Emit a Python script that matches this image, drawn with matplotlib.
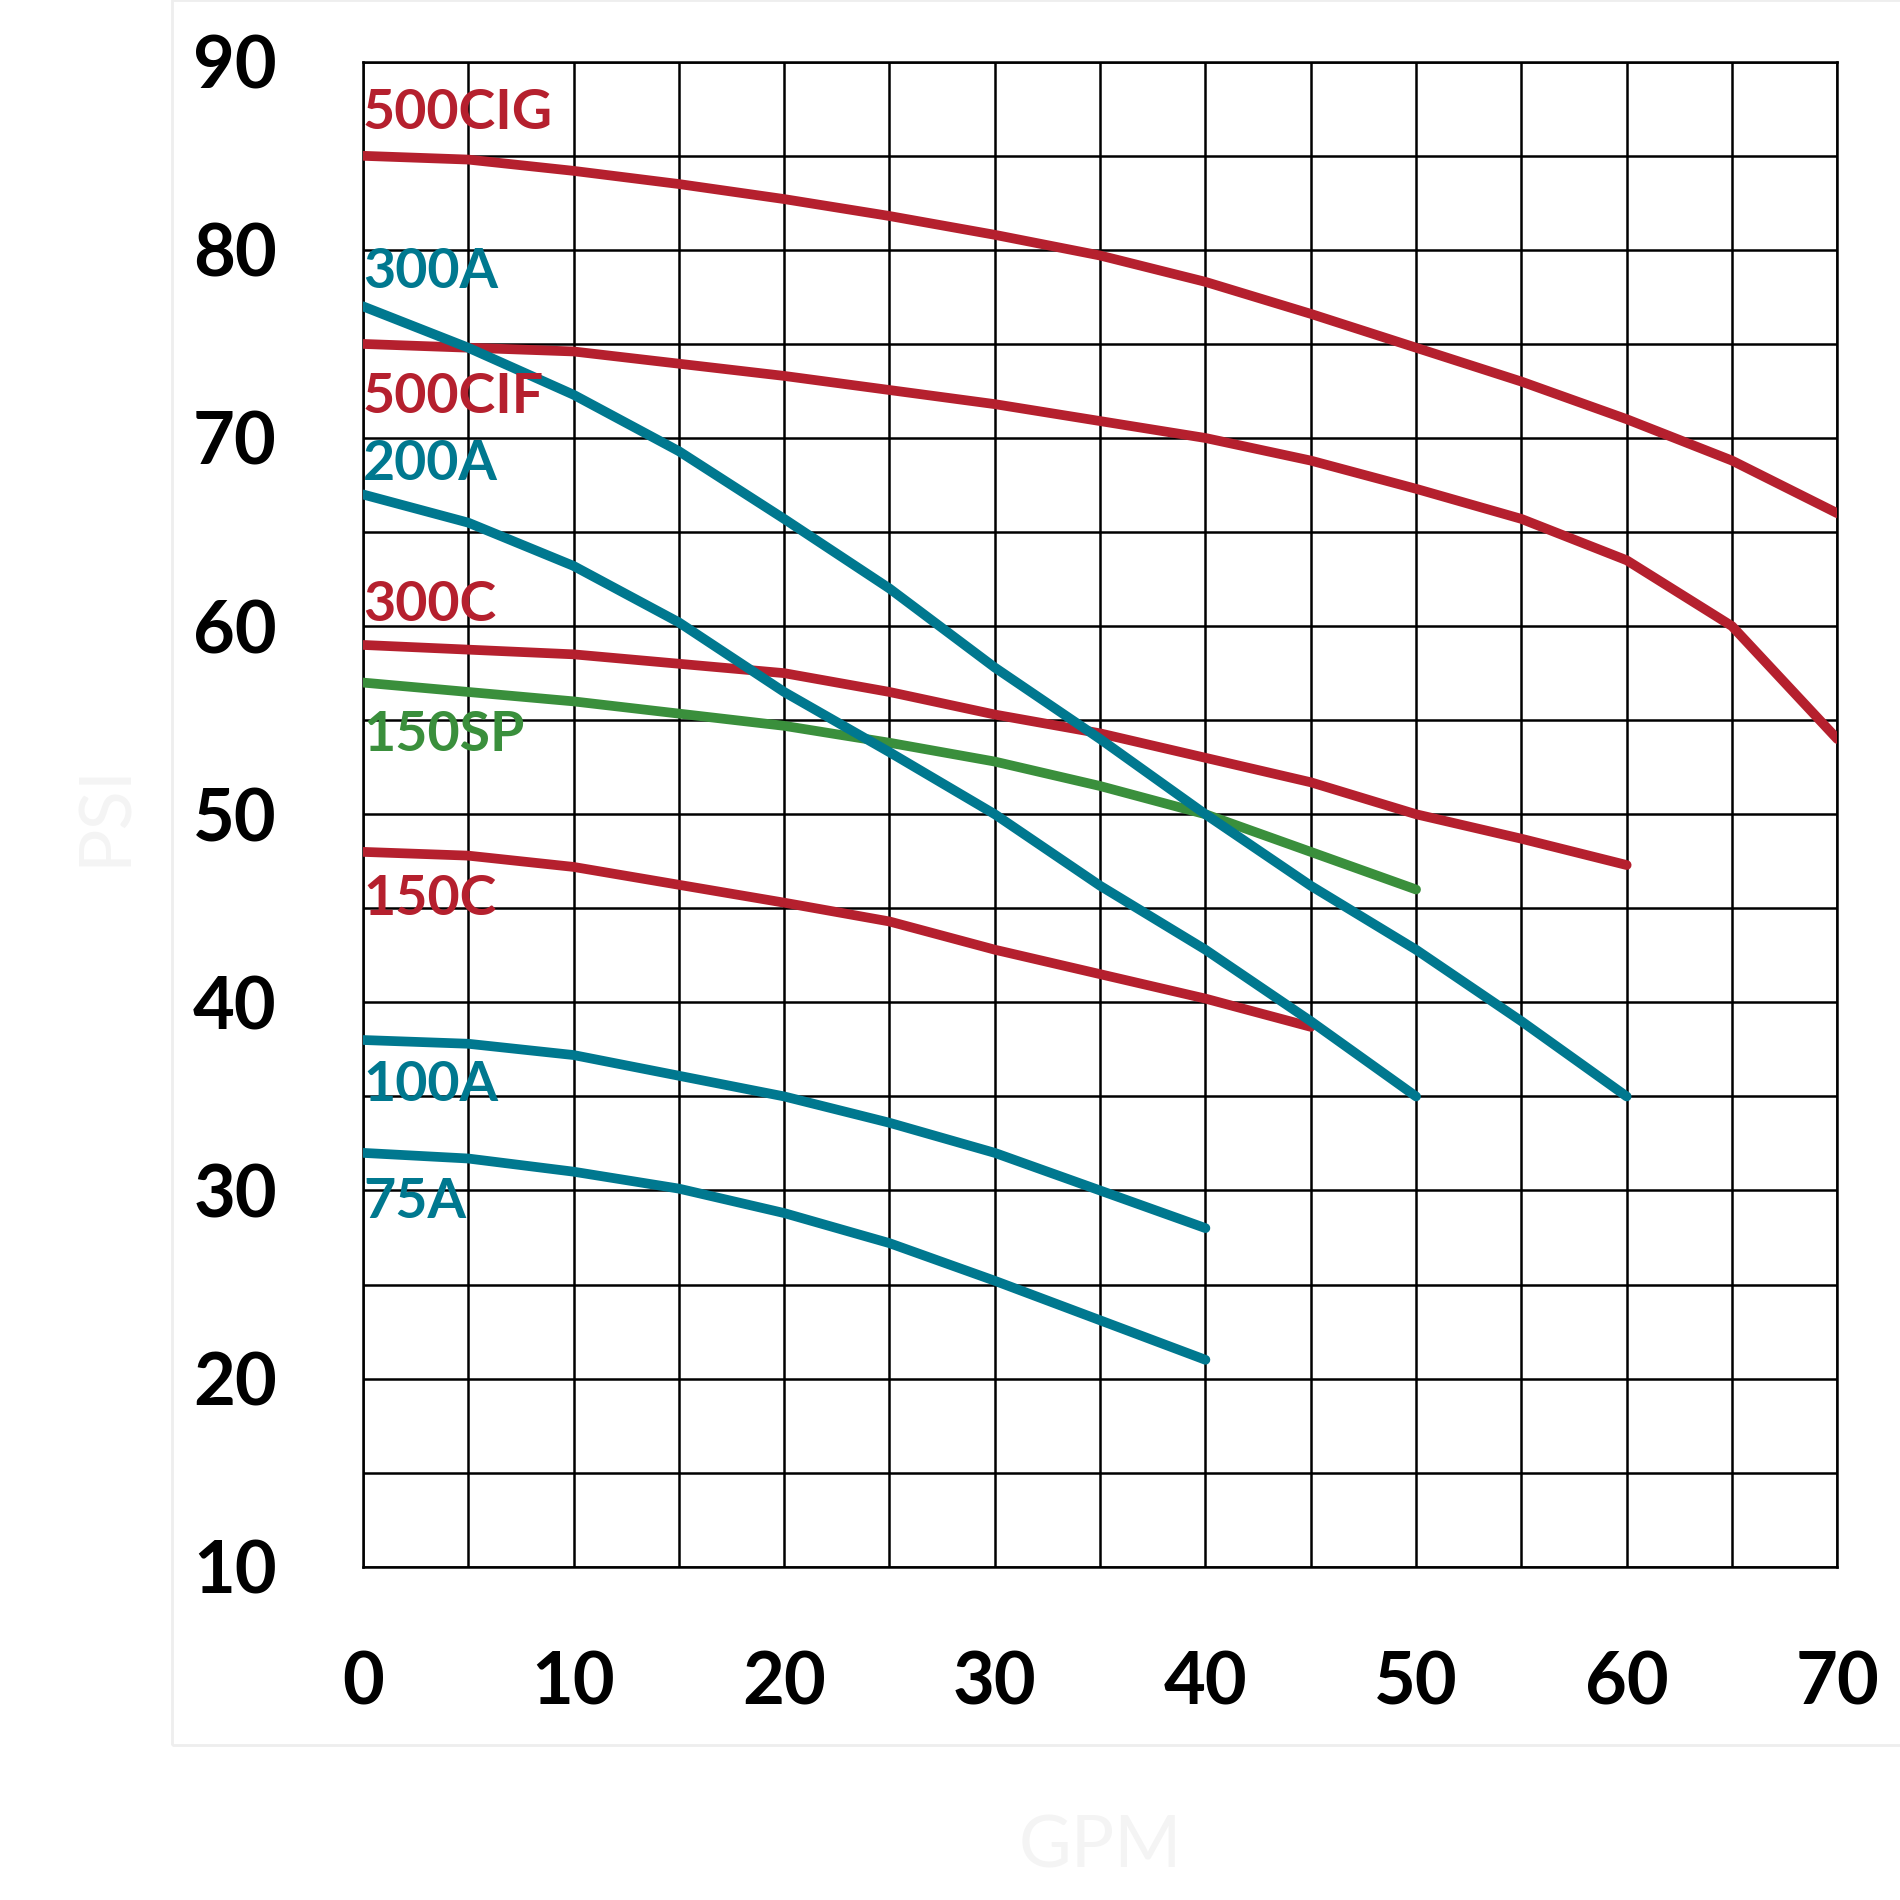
import matplotlib.pyplot as plt
from matplotlib.patches import Rectangle
from matplotlib.ticker import MultipleLocator

RED = '#b5202e'
TEAL = '#00788f'
GREEN = '#3a8f3c'

# pump curves: GPM -> PSI
gpm_500cig = [0, 5, 10, 15, 20, 25, 30, 35, 40, 45, 50, 55, 60, 65, 70]
psi_500cig = [85, 84.8, 84.2, 83.5, 82.7, 81.8, 80.8, 79.7, 78.3, 76.6, 74.8, 73, 71, 68.8, 66]
gpm_500cif = [0, 10, 20, 30, 40, 45, 50, 55, 60, 65, 70]
psi_500cif = [75, 74.6, 73.3, 71.8, 70, 68.8, 67.3, 65.7, 63.5, 60, 54]
gpm_300a = [0, 5, 10, 15, 20, 25, 30, 35, 40, 45, 50, 55, 60]
psi_300a = [77, 74.8, 72.3, 69.3, 65.7, 62, 57.8, 54, 50, 46.2, 42.8, 39, 35]
gpm_200a = [0, 5, 10, 15, 20, 25, 30, 35, 40, 45, 50]
psi_200a = [67, 65.5, 63.2, 60.2, 56.5, 53.3, 50, 46.2, 42.8, 39, 35]
gpm_300c = [0, 10, 20, 25, 30, 35, 40, 45, 50, 55, 60]
psi_300c = [59, 58.5, 57.5, 56.5, 55.3, 54.3, 53, 51.7, 50, 48.7, 47.3]
gpm_150sp = [0, 10, 20, 25, 30, 35, 40, 45, 50]
psi_150sp = [57, 56, 54.7, 53.8, 52.8, 51.5, 50, 48, 46]
gpm_150c = [0, 5, 10, 20, 25, 30, 35, 40, 45]
psi_150c = [48, 47.8, 47.2, 45.3, 44.3, 42.8, 41.5, 40.2, 38.7]
gpm_100a = [0, 5, 10, 20, 25, 30, 35, 40]
psi_100a = [38, 37.8, 37.2, 35, 33.6, 32, 30, 28]
gpm_75a = [0, 5, 10, 15, 20, 25, 30, 35, 40]
psi_75a = [32, 31.7, 31, 30.1, 28.8, 27.2, 25.2, 23.1, 21]

labels = ['500CIG', '300A', '500CIF', '200A', '300C', '150SP', '150C', '100A', '75A']
label_y = [87.3, 78.8, 72.2, 68.6, 61.1, 54.2, 45.5, 35.6, 29.4]
label_colors = [RED, TEAL, RED, TEAL, RED, GREEN, RED, TEAL, TEAL]

curves = [
    (gpm_500cig, psi_500cig, RED),
    (gpm_500cif, psi_500cif, RED),
    (gpm_300c, psi_300c, RED),
    (gpm_150c, psi_150c, RED),
    (gpm_150sp, psi_150sp, GREEN),
    (gpm_300a, psi_300a, TEAL),
    (gpm_200a, psi_200a, TEAL),
    (gpm_100a, psi_100a, TEAL),
    (gpm_75a, psi_75a, TEAL),
]

plt.rcParams['font.family'] = 'Lato'
fig = plt.figure(figsize=(19, 19), dpi=100)
fig.patches.append(Rectangle((142 / 1568, 1 - 1440 / 1568), 1, 1440 / 1568,
                             transform=fig.transFigure, fill=False,
                             edgecolor='#eeeeee', linewidth=2))
ax = fig.add_axes([0.191, 0.1754, 0.776, 0.7921])

for x, y, c in curves:
    ax.plot(x, y, color=c, lw=7, solid_capstyle='round', zorder=3)

for t, y, c in zip(labels, label_y, label_colors):
    ax.text(0, y, t, color=c, fontsize=40, fontweight='bold', va='center', ha='left', zorder=4)

ax.set_xlim(0, 70)
ax.set_ylim(10, 90)
ax.xaxis.set_major_locator(MultipleLocator(10))
ax.yaxis.set_major_locator(MultipleLocator(10))
ax.xaxis.set_minor_locator(MultipleLocator(5))
ax.yaxis.set_minor_locator(MultipleLocator(5))
ax.grid(True, which='both', color='black', lw=1.8, zorder=1)
for s in ax.spines.values():
    s.set_linewidth(1.8)
ax.tick_params(which='both', length=0)
ax.tick_params(axis='x', pad=60, labelsize=52)
ax.tick_params(axis='y', pad=62, labelsize=52)
for lab in ax.get_xticklabels() + ax.get_yticklabels():
    lab.set_fontweight('bold')

ax.set_xlabel('GPM', color='#f4f4f4', fontsize=52, labelpad=70)
ax.set_ylabel('PSI', color='#f4f4f4', fontsize=52, labelpad=40)

fig.savefig('out.png')
